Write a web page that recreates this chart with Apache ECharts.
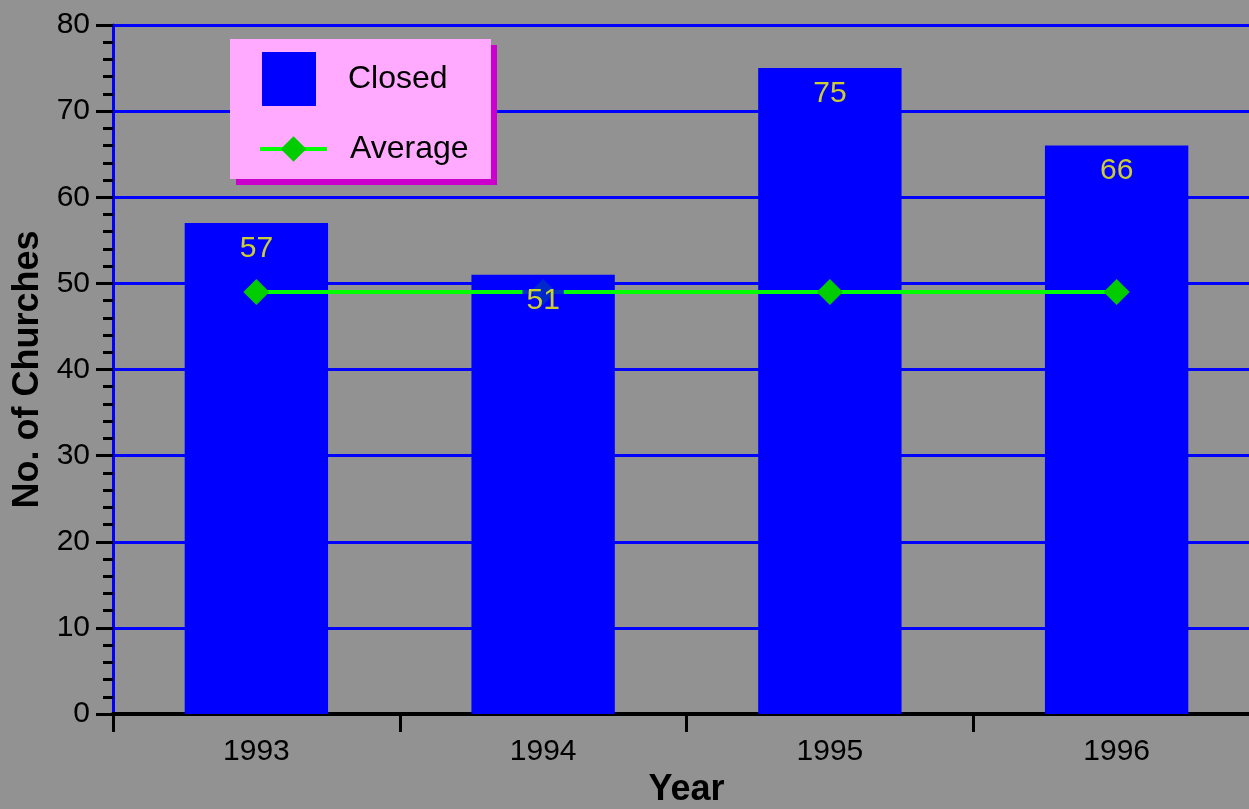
<!DOCTYPE html>
<html>
<head>
<meta charset="utf-8">
<script src="https://cdn.jsdelivr.net/npm/echarts@6/dist/echarts.min.js"></script>
<style>
  html, body { margin: 0; padding: 0; background: #929292; }
  #main { width: 1249px; height: 809px; }
</style>
</head>
<body>
<div id="main"></div>
<script>
// 数据
var years = ['1993', '1994', '1995', '1996'];
var closedValues = [57, 51, 75, 66];
var averageValues = [49, 49, 49, 49];
var yTicks = { min: 0, max: 80, interval: 10 };

var chart = echarts.init(document.getElementById('main'));

var font = 'Liberation Sans, Arial, sans-serif';

var option = {
    backgroundColor: '#929292',
    animation: false,
    // 绘图区超出画布右侧
    grid: { left: 113, top: 25, bottom: 95, width: 1147, outerBoundsMode: 'none', containLabel: false },
    // 图例背景（粉色框 + 紫色阴影）
    graphic: [
        { type: 'rect', shape: { x: 236, y: 45, width: 261, height: 140 }, style: { fill: '#cc00cc' }, z: 50 },
        { type: 'rect', shape: { x: 230, y: 39, width: 261, height: 140 }, style: { fill: '#ffaaff' }, z: 51 }
    ],
    legend: [
        {
            data: [{ name: 'Closed', icon: 'rect' }],
            left: 262, top: 52, padding: 0,
            itemWidth: 54, itemHeight: 54,
            selectedMode: false, z: 60,
            textStyle: { fontFamily: font, fontSize: 32, color: '#000', padding: [0, 0, 0, 27] }
        },
        {
            data: ['Average'],
            left: 258, top: 133, padding: 0,
            itemWidth: 67, itemHeight: 32,
            selectedMode: false, z: 60,
            lineStyle: { width: 4 },
            textStyle: { fontFamily: font, fontSize: 32, color: '#000', padding: [0, 0, 0, 18] }
        }
    ],
    xAxis: {
        type: 'category',
        data: years,
        name: 'Year',
        nameLocation: 'middle',
        nameGap: 58,
        nameTextStyle: { fontFamily: font, fontSize: 36, fontWeight: 'bold', color: '#000' },
        axisLine: { lineStyle: { color: '#000', width: 4 } },
        axisTick: { show: true, interval: 0, alignWithLabel: false, length: 18, lineStyle: { color: '#000', width: 3 } },
        axisLabel: { fontFamily: font, fontSize: 30, color: '#000', margin: 23 },
        splitLine: { show: false }
    },
    yAxis: {
        type: 'value',
        min: yTicks.min, max: yTicks.max, interval: yTicks.interval,
        name: 'No. of Churches',
        nameLocation: 'middle',
        nameGap: 65,
        nameTextStyle: { fontFamily: font, fontSize: 36, fontWeight: 'bold', color: '#000' },
        axisLine: { show: true, lineStyle: { color: '#0000ff', width: 3 } },
        axisTick: { show: true, length: 17, lineStyle: { color: '#000', width: 3 } },
        minorTick: { show: true, splitNumber: 5, length: 10, lineStyle: { color: '#000', width: 3 } },
        axisLabel: { fontFamily: font, fontSize: 30, color: '#000', margin: 23 },
        splitLine: { lineStyle: { color: '#0000ff', width: 3 } }
    },
    series: [
        {
            name: 'Closed',
            type: 'bar',
            data: closedValues,
            barWidth: '50%',
            itemStyle: { color: '#0000ff' }
        },
        {
            name: 'Average',
            type: 'line',
            data: averageValues,
            symbol: 'diamond',
            symbolSize: 26,
            itemStyle: { color: '#00cc00' },
            lineStyle: { color: '#00ff00', width: 4 }
        },
        {
            // 柱子数值标签，放在折线上层
            name: 'labels',
            type: 'scatter',
            data: closedValues,
            symbolSize: 1,
            itemStyle: { color: 'rgba(0,0,0,0)' },
            silent: true,
            z: 10,
            label: {
                show: true,
                position: 'bottom',
                distance: 3,
                fontFamily: font,
                fontSize: 30,
                color: '#ffff00',
                textBorderWidth: 0,
                backgroundColor: '#0000ff',
                padding: [7, 4, 4, 4]
            }
        }
    ]
};

chart.setOption(option);
</script>
</body>
</html>
